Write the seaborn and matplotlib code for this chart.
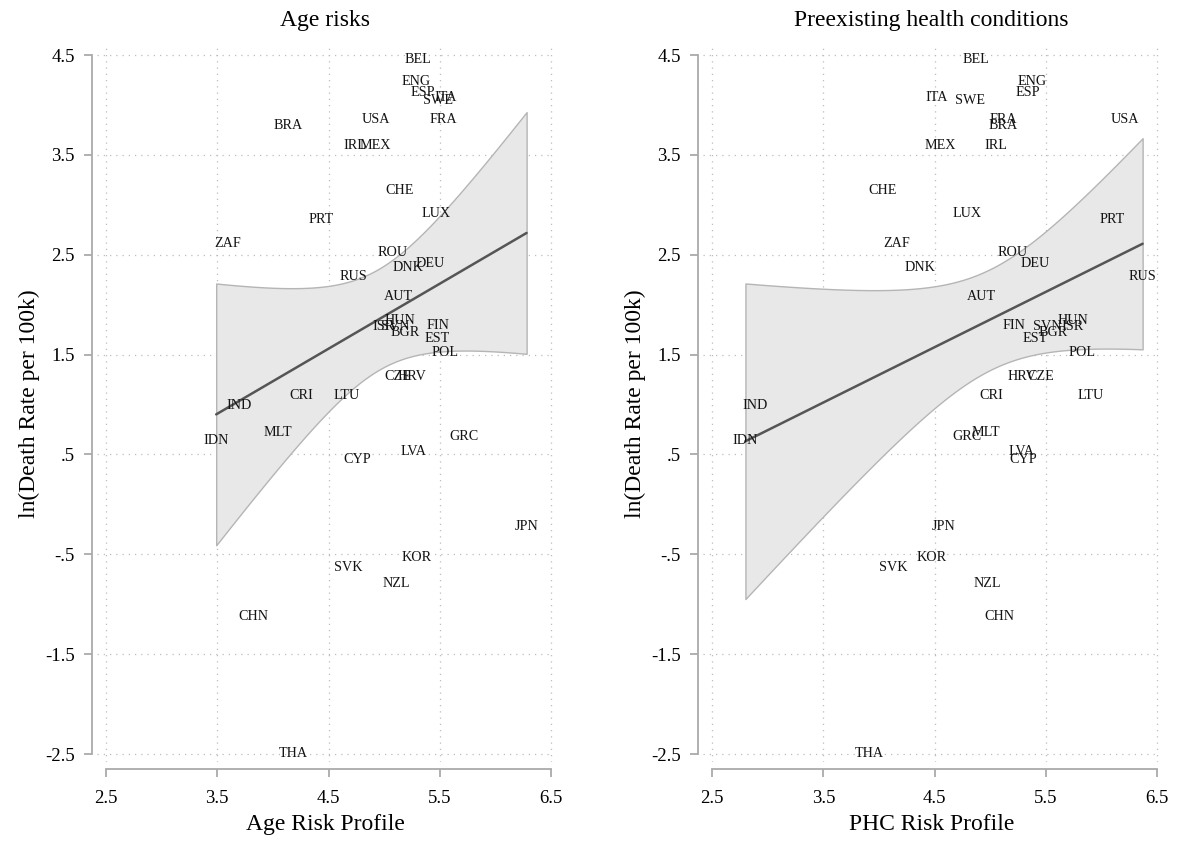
import numpy as np
import pandas as pd
import matplotlib
matplotlib.use('Agg')
import matplotlib.pyplot as plt
import seaborn as sns

# Países e valores
paises = ['BEL', 'ENG', 'ESP', 'ITA', 'SWE', 'USA', 'FRA', 'BRA', 'IRL', 'MEX',
          'CHE', 'LUX', 'PRT', 'ZAF', 'ROU', 'DNK', 'DEU', 'RUS', 'AUT', 'ISR',
          'SVN', 'HUN', 'BGR', 'FIN', 'EST', 'POL', 'CZE', 'HRV', 'CRI', 'LTU',
          'IND', 'MLT', 'IDN', 'GRC', 'LVA', 'CYP', 'JPN', 'KOR', 'SVK', 'NZL',
          'CHN', 'THA']

taxa_morte = [4.46, 4.23, 4.12, 4.07, 4.04, 3.85, 3.85, 3.79, 3.59, 3.59,
              3.14, 2.91, 2.85, 2.61, 2.52, 2.37, 2.41, 2.28, 2.08, 1.78,
              1.78, 1.84, 1.72, 1.79, 1.66, 1.52, 1.28, 1.28, 1.09, 1.09,
              0.99, 0.72, 0.64, 0.68, 0.53, 0.45, -0.22, -0.53, -0.63, -0.79,
              -1.12, -2.49]

risco_idade = [5.30, 5.29, 5.35, 5.55, 5.48, 4.93, 5.53, 4.14, 4.74, 4.92,
               5.14, 5.47, 4.43, 3.59, 5.08, 5.21, 5.41, 4.72, 5.13, 4.99,
               5.10, 5.14, 5.19, 5.48, 5.48, 5.55, 5.12, 5.25, 4.25, 4.66,
               3.70, 4.04, 3.49, 5.72, 5.26, 4.76, 6.28, 5.29, 4.68, 5.11,
               3.82, 4.18]

risco_phc = [4.87, 5.38, 5.34, 4.52, 4.82, 6.21, 5.12, 5.12, 5.05, 4.55,
             4.03, 4.79, 6.10, 4.16, 5.20, 4.37, 5.40, 6.37, 4.92, 5.74,
             5.51, 5.74, 5.57, 5.21, 5.40, 5.83, 5.45, 5.29, 5.01, 5.90,
             2.89, 4.96, 2.80, 4.79, 5.28, 5.30, 4.58, 4.47, 4.13, 4.97,
             5.08, 3.91]

ticks_x = [2.5, 3.5, 4.5, 5.5, 6.5]
rotulos_x = ['2.5', '3.5', '4.5', '5.5', '6.5']
ticks_y = [-2.5, -1.5, -0.5, 0.5, 1.5, 2.5, 3.5, 4.5]
rotulos_y = ['-2.5', '-1.5', '-.5', '.5', '1.5', '2.5', '3.5', '4.5']

df = pd.DataFrame({'pais': paises, 'ln_morte': taxa_morte,
                   'idade': risco_idade, 'phc': risco_phc})

sns.set_style('white')
plt.rcParams['font.family'] = ['Liberation Serif', 'DejaVu Serif']
plt.rcParams['text.color'] = 'black'
plt.rcParams['axes.labelcolor'] = 'black'
plt.rcParams['xtick.labelcolor'] = 'black'
plt.rcParams['ytick.labelcolor'] = 'black'

fig = plt.figure(figsize=(11.79, 8.42), dpi=100)
ax1 = fig.add_axes([0.0824, 0.0950, 0.3869, 0.8515])
ax2 = fig.add_axes([0.5964, 0.0950, 0.3869, 0.8515])

paineis = [(ax1, 'idade', 'Age risks', 'Age Risk Profile'),
           (ax2, 'phc', 'Preexisting health conditions', 'PHC Risk Profile')]

for ax, col, titulo, rotulo_x in paineis:
    # intervalo de confiança da média (como o lfitci do Stata)
    x = df[col].to_numpy()
    y = df['ln_morte'].to_numpy()
    n = len(x)
    b, a = np.polyfit(x, y, 1)
    resid = y - (a + b * x)
    s = np.sqrt(np.sum(resid ** 2) / (n - 2))
    grade = np.linspace(x.min(), x.max(), 200)
    ep = s * np.sqrt(1 / n + (grade - x.mean()) ** 2 / np.sum((x - x.mean()) ** 2))
    t = 2.021
    ajuste = a + b * grade
    ax.fill_between(grade, ajuste - t * ep, ajuste + t * ep, facecolor='#e8e8e8',
                    edgecolor='#b5b5b5', linewidth=1.0, zorder=2)

    sns.regplot(x=col, y='ln_morte', data=df, ax=ax, scatter=False, ci=None,
                color='#555555', line_kws={'lw': 1.8, 'color': '#555555', 'zorder': 3})

    for _, linha in df.iterrows():
        ax.text(linha[col], linha['ln_morte'], linha['pais'], fontsize=10.2,
                ha='center', va='center', color='#141414', zorder=4)

    ax.set_xlim(2.42, 6.52)
    ax.set_ylim(-2.58, 4.6)
    ax.set_xticks(ticks_x)
    ax.set_yticks(ticks_y)
    ax.grid(True, linestyle=(0, (1, 4)), color='#bdbdbd', lw=0.9)
    ax.set_axisbelow(True)

    ax.set_title(titulo, fontsize=17, pad=14)
    ax.set_xlabel(rotulo_x, fontsize=17, labelpad=5)
    ax.set_ylabel('ln(Death Rate per 100k)', fontsize=17, labelpad=4)
    ax.tick_params(axis='both', labelsize=13.5, length=6, width=1.3,
                   color='#aaaaaa', direction='out')
    ax.tick_params(axis='x', bottom=True, pad=9.5)
    ax.tick_params(axis='y', left=True, pad=6)

    sns.despine(ax=ax, offset={'left': 4, 'bottom': 5}, trim=True)
    ax.set_xticks(ticks_x, rotulos_x)
    ax.set_yticks(ticks_y, rotulos_y)
    for lado in ['left', 'bottom']:
        ax.spines[lado].set_color('#aaaaaa')
        ax.spines[lado].set_linewidth(1.3)

fig.savefig('out.png', dpi=100)
